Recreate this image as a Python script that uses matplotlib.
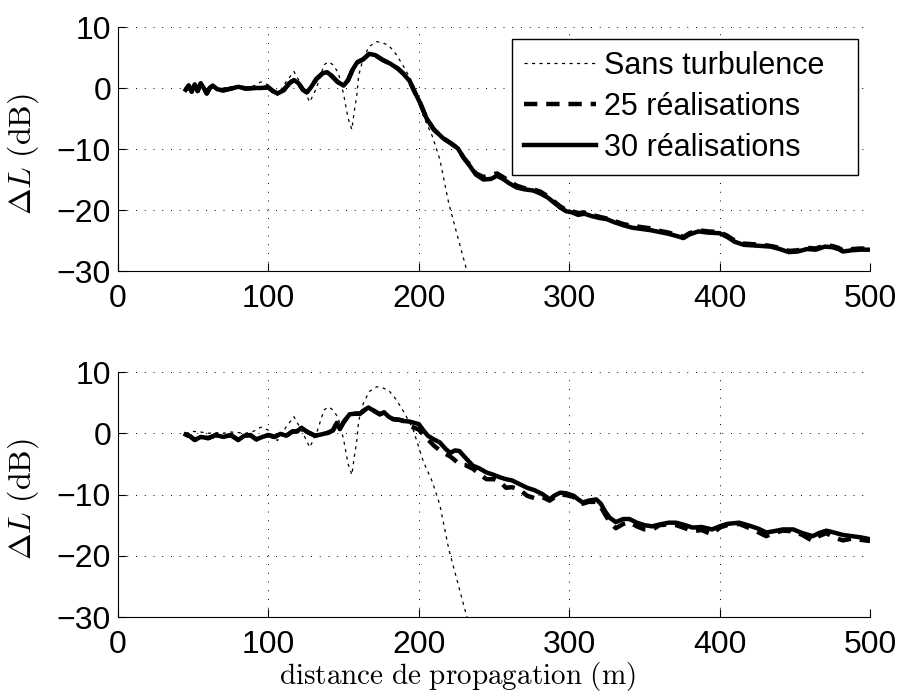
import numpy as np
import matplotlib
matplotlib.use('Agg')
import matplotlib.pyplot as plt

plt.rcParams['font.family'] = ['Liberation Sans', 'DejaVu Sans']
plt.rcParams['mathtext.fontset'] = 'cm'

# distance (m) / niveau relatif (dB)
x_ref = [45, 50, 55, 60, 65, 70, 75, 80, 85, 90, 95, 100, 106, 112, 117, 122, 127.5, 132, 137, 140,
         143, 146.5, 150, 153, 155.5, 157, 158.7, 160, 163, 167, 172, 176, 180, 185, 190, 196, 203,
         209, 214, 220, 226, 232, 238]
sans_turb = [0.0, 0.3, 0.2, 0.0, 0.1, 0.0, 0.2, 0.1, 0.0, 0.3, 1.0, 0.5, -1.2, 1.1, 2.7, 0.5, -2.3,
             0.0, 3.8, 4.3, 3.8, 2.5, -1.0, -5.0, -6.8, -4.0, -1.4, 2.0, 4.8, 6.8, 7.6, 7.4, 7.0,
             5.5, 3.5, 0.8, -4.6, -7.9, -11.7, -19.0, -24.5, -30.0, -35.0]

x_haut = [45, 47, 49, 51, 53, 55, 57, 59, 61, 63, 66, 70, 75, 80, 85, 90, 95, 100, 103, 106,
          110, 114, 117, 120, 123, 125.5, 128, 132, 136, 139, 142, 146, 150, 153, 156, 159, 163,
          167, 171, 176, 181, 186, 190, 194, 197, 201, 205, 210, 216, 221, 226, 230, 234, 238,
          243, 248, 252, 256, 260, 265, 270, 276, 281, 286, 290, 294, 298, 302, 306, 310, 315,
          320, 325, 330, 336, 342, 348, 354, 360, 366, 372, 376, 380, 386, 392, 400, 405, 410,
          416, 422, 428, 434, 440, 446, 452, 458, 464, 470, 475, 479, 482, 488, 494, 500]
haut_30 = [-0.3, 0.4, -0.6, 0.6, -0.5, 0.8, 0.0, -0.9, 0.0, 0.4,
           -0.2, -0.4, -0.1, 0.2, -0.1, 0.0, 0.0, 0.1, -0.5, -0.9,
           -0.4, 0.8, 1.3, 0.8, -0.3, -0.7, 0.0, 1.5, 2.4, 2.6,
           2.0, 1.0, 0.4, 1.3, 3.0, 4.2, 4.7, 5.6, 5.4, 4.6,
           4.0, 3.2, 2.3, 1.1, -0.5, -2.5, -4.9, -6.8, -8.2, -9.0,
           -9.9, -11.5, -12.8, -14.2, -15.0, -14.9, -14.4, -14.9, -15.6, -16.3,
           -16.6, -16.8, -17.3, -18.0, -18.8, -19.6, -20.2, -20.4, -20.8, -20.6,
           -21.0, -21.3, -21.5, -22.0, -22.5, -22.9, -23.1, -23.3, -23.6, -23.9,
           -24.3, -24.6, -24.0, -23.5, -23.7, -23.8, -24.4, -25.2, -25.7, -25.8,
           -25.9, -26.0, -26.4, -26.9, -26.8, -26.4, -26.5, -26.0, -26.1, -26.4,
           -26.8, -26.6, -26.5, -26.5]
haut_25 = [-0.3, 0.4, -0.6, 0.6, -0.5, 0.8, 0.0, -0.9, 0.0, 0.4,
           -0.2, -0.4, -0.1, 0.2, -0.1, 0.0, 0.0, 0.1, -0.5, -0.9,
           -0.4, 0.8, 1.3, 0.8, -0.3, -0.7, 0.0, 1.5, 2.4, 2.6,
           2.0, 1.0, 0.4, 1.3, 3.0, 4.2, 4.7, 5.6, 5.4, 4.6,
           4.0, 3.2, 2.3, 1.1, -0.5, -2.5, -4.9, -6.8, -8.2, -9.0,
           -9.9, -11.5, -12.6, -14.0, -14.6, -14.2, -14.0, -14.6, -15.2, -16.0,
           -16.4, -16.6, -17.0, -17.8, -18.6, -19.4, -20.0, -20.2, -20.5, -20.4,
           -20.8, -21.1, -21.4, -21.8, -22.3, -22.6, -22.8, -23.0, -23.4, -23.7,
           -24.1, -24.4, -23.8, -23.3, -23.5, -23.6, -24.2, -25.0, -25.5, -25.6,
           -25.7, -25.9, -26.2, -26.7, -26.6, -26.2, -26.3, -25.8, -25.9, -26.2,
           -26.6, -26.4, -26.3, -26.4]

x_bas = [45, 48, 51, 55, 60, 65, 70, 75, 80, 84, 88, 92, 96, 100, 104, 108, 112, 116, 119, 122,
         126, 131, 135, 140, 143, 145.5, 147.5, 150, 154, 158, 161, 164, 166.5, 170, 174, 177,
         180, 183, 187, 190, 194, 200, 203, 206, 210, 214, 218, 221, 224, 227, 231, 236, 240,
         245, 250, 254, 258, 262, 267, 272, 277, 282, 287, 290, 294, 298, 303, 306, 309, 313,
         318, 321, 324, 327, 331, 336, 340, 345, 350, 355, 360, 366, 371, 377, 382, 388, 395,
         400, 405, 413, 420, 426, 431, 436, 442, 449, 455, 462, 466, 471, 476, 482, 488, 494, 500]
bas_30 = [-0.2, -0.5, -1.1, -0.6, -0.8, -0.3, -0.6, -0.3, -1.1, -0.4,
          -0.3, -1.0, -0.6, -0.3, -0.6, -0.1, -0.4, 0.3, 0.3, 0.9,
          0.2, -0.4, -0.2, 0.1, 0.5, 1.7, 0.7, 1.8, 3.1, 3.2,
          3.2, 3.8, 4.2, 3.7, 3.1, 3.4, 2.7, 2.3, 2.2, 2.0,
          1.9, 1.5, 0.5, -0.4, -1.0, -1.5, -2.6, -3.2, -2.8, -2.9,
          -4.0, -5.3, -5.7, -6.4, -6.8, -7.2, -7.5, -7.7, -8.3, -8.9,
          -9.3, -9.9, -10.8, -10.2, -9.7, -9.8, -10.2, -10.8, -11.3, -11.0,
          -10.8, -11.5, -12.8, -13.8, -14.5, -14.0, -14.0, -14.6, -15.0, -15.2,
          -14.9, -14.6, -14.6, -15.0, -15.4, -15.3, -15.7, -15.2, -14.8, -14.6,
          -15.1, -15.6, -16.2, -16.0, -15.7, -15.7, -16.3, -16.8, -16.3, -15.9,
          -16.2, -16.6, -16.8, -17.0, -17.3]
bas_25 = [-0.2, -0.5, -1.1, -0.6, -0.8, -0.3, -0.6, -0.3, -1.1, -0.4,
          -0.3, -1.0, -0.6, -0.3, -0.6, -0.1, -0.4, 0.3, 0.3, 0.9,
          0.2, -0.4, -0.2, 0.1, 0.5, 1.7, 0.7, 1.8, 3.1, 3.2,
          3.2, 3.8, 4.2, 3.7, 3.1, 3.4, 2.7, 2.3, 2.2, 2.0,
          1.2, 0.6, -0.2, -1.0, -2.0, -2.8, -3.4, -3.8, -4.4, -5.1,
          -5.2, -5.8, -6.6, -7.5, -7.5, -7.9, -8.9, -8.8, -9.2, -10.2,
          -10.6, -10.4, -11.0, -10.5, -10.0, -10.1, -10.4, -11.0, -11.5, -11.2,
          -11.2, -12.0, -13.3, -14.5, -15.5, -14.8, -14.5, -15.2, -15.7, -15.8,
          -15.0, -14.9, -15.0, -15.5, -16.0, -15.8, -16.5, -15.4, -15.0, -14.8,
          -15.5, -16.2, -16.8, -16.3, -15.9, -16.0, -16.6, -17.6, -16.8, -16.3,
          -17.0, -17.5, -17.2, -17.4, -17.6]

fig = plt.figure(figsize=(9.02, 6.96), dpi=100)
ax1 = fig.add_axes([0.1308, 0.6106, 0.8337, 0.3506])
ax2 = fig.add_axes([0.1308, 0.1135, 0.8337, 0.352])

for ax, xs, y25, y30 in [(ax1, x_haut, haut_25, haut_30), (ax2, x_bas, bas_25, bas_30)]:
    ax.plot(x_ref, sans_turb, color='black', linestyle=(0, (2.5, 3.5)), linewidth=0.9,
            label='Sans turbulence')
    ax.plot(xs, y25, color='black', linestyle=(0, (3, 2)), linewidth=3.2, label='25 réalisations')
    ax.plot(xs, y30, color='black', linestyle='-', linewidth=3.2, label='30 réalisations')
    ax.set_xlim(0, 500)
    ax.set_ylim(-30, 10)
    ax.set_xticks([0, 100, 200, 300, 400, 500])
    ax.set_yticks([-30, -20, -10, 0, 10])
    ax.set_yticklabels(['\u221230', '\u221220', '\u221210', '0', '10'])
    ax.grid(True, color='black', linestyle=(0, (1, 8)), linewidth=0.7)
    ax.spines['top'].set_visible(False)
    ax.spines['right'].set_visible(False)
    ax.tick_params(direction='in', length=6, width=0.8, labelsize=23)
    ax.tick_params(axis='x', pad=9)
    ax.tick_params(axis='y', pad=5)
    ax.set_ylabel(r'$\Delta L\ \mathrm{(dB)}$', fontsize=23)
    ax.yaxis.set_label_coords(-0.102, 0.48)

ax2.set_xlabel(r'$\mathrm{distance\ de\ propagation\ (m)}$', fontsize=21)
ax2.xaxis.set_label_coords(0.452, -0.175)

leg = ax1.legend(loc='upper left', bbox_to_anchor=(0.524, 0.951, 0.46, 0.0), mode='expand',
                 fontsize=22, handlelength=2.35, handletextpad=0.25,
                 labelspacing=0.36, borderpad=0.4, borderaxespad=0.0, fancybox=False,
                 framealpha=1)
leg.get_frame().set_edgecolor('black')
leg.get_frame().set_linewidth(1.0)

fig.savefig('out.png', dpi=100)
